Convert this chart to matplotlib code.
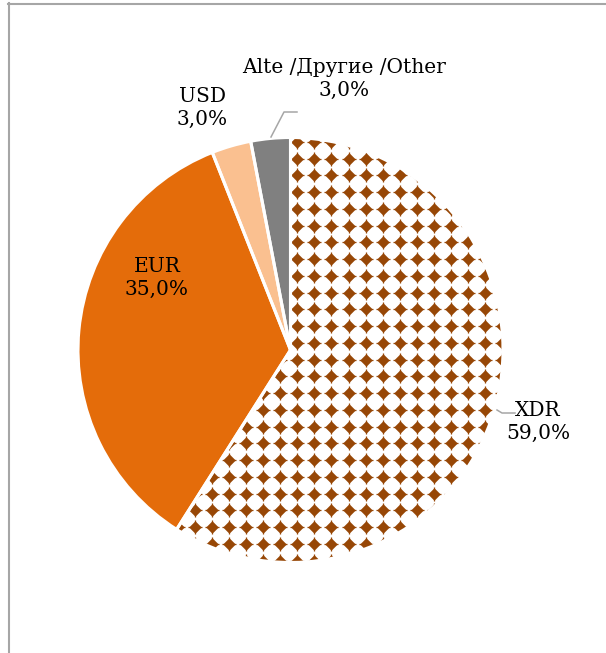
import matplotlib
matplotlib.use("Agg")
import matplotlib.pyplot as plt
import numpy as np
from matplotlib.lines import Line2D
from matplotlib.patches import Wedge

plt.rc('font', family='DejaVu Serif')

labels = ['XDR', 'EUR', 'USD', 'Alte /Другие /Other']
shares = [59.0, 35.0, 3.0, 3.0]
colors = ['white', '#E46C0A', '#FAC090', '#808080']
hatch_color = '#974706'

W, H = 606, 653
fig = plt.figure(figsize=(W / 100, H / 100), dpi=100)
ax = fig.add_axes([0, 0, 1, 1])

def Y(y):  # picture rows -> axis units (y up)
    return H - y

cx, cy, r = 290.5, Y(350), 212.5

# fills
wedges, _ = ax.pie(shares, colors=colors, startangle=90, counterclock=False,
                   center=(cx, cy), radius=r, frame=True,
                   wedgeprops=dict(linewidth=0))
wedges[0].set_zorder(1)
for w in wedges[1:]:
    w.set_zorder(3)

# diamond pattern for XDR: drawn over the whole disc, other slices cover it
gx = np.arange(297.3 - 17.1 * 14, 520, 17.1)
gy = np.arange(309.3 - 16.75 * 12, 580, 16.75)
mx, my = np.meshgrid(gx, gy)
px, py = mx.ravel(), Y(my.ravel())
ax.scatter(px, py, s=6.4 ** 2, marker='D', color=hatch_color,
           linewidths=0, zorder=2)
ax.scatter(px, py, s=10.5 ** 2, marker='+', color=hatch_color,
           linewidths=0.9, zorder=2)

# white ring outside the disc trims the pattern at the rim
ax.add_patch(Wedge((cx, cy), r + 500, 0, 360, width=500, facecolor='white',
                   edgecolor='none', zorder=3))

# white separators on top
ax.pie(shares, colors=['none'] * 4, startangle=90, counterclock=False,
       center=(cx, cy), radius=r, frame=True,
       wedgeprops=dict(edgecolor='white', linewidth=2.2, zorder=4))

# labels
lab_pos = [(538, 422), (157, 278), (202, 108), (344, 79)]
for name, val, (lx, ly) in zip(labels, shares, lab_pos):
    txt = '%s\n%s%%' % (name, ('%.1f' % val).replace('.', ','))
    ax.text(lx, Y(ly), txt, ha='center', va='center', fontsize=14.5,
            linespacing=1.25, color='black', zorder=6)

# leader lines
lc = '#A6A6A6'
ax.plot([297, 284, 271], [Y(112), Y(112), Y(137)], color=lc, lw=1.1, zorder=5)
ax.plot([497, 502, 515], [Y(410), Y(413), Y(413)], color=lc, lw=1.1, zorder=5)

ax.set_xlim(0, W)
ax.set_ylim(0, H)
ax.set_aspect('equal')
ax.axis('off')

# chart frame (left and top border)
fig.add_artist(Line2D([8.5 / W, 8.5 / W], [0, 1 - 3 / H], color='#A6A6A6', lw=1.5,
                      transform=fig.transFigure))
fig.add_artist(Line2D([8 / W, 1], [1 - 3.5 / H, 1 - 3.5 / H], color='#A6A6A6', lw=1.5,
                      transform=fig.transFigure))

fig.savefig('out.png', dpi=100)
